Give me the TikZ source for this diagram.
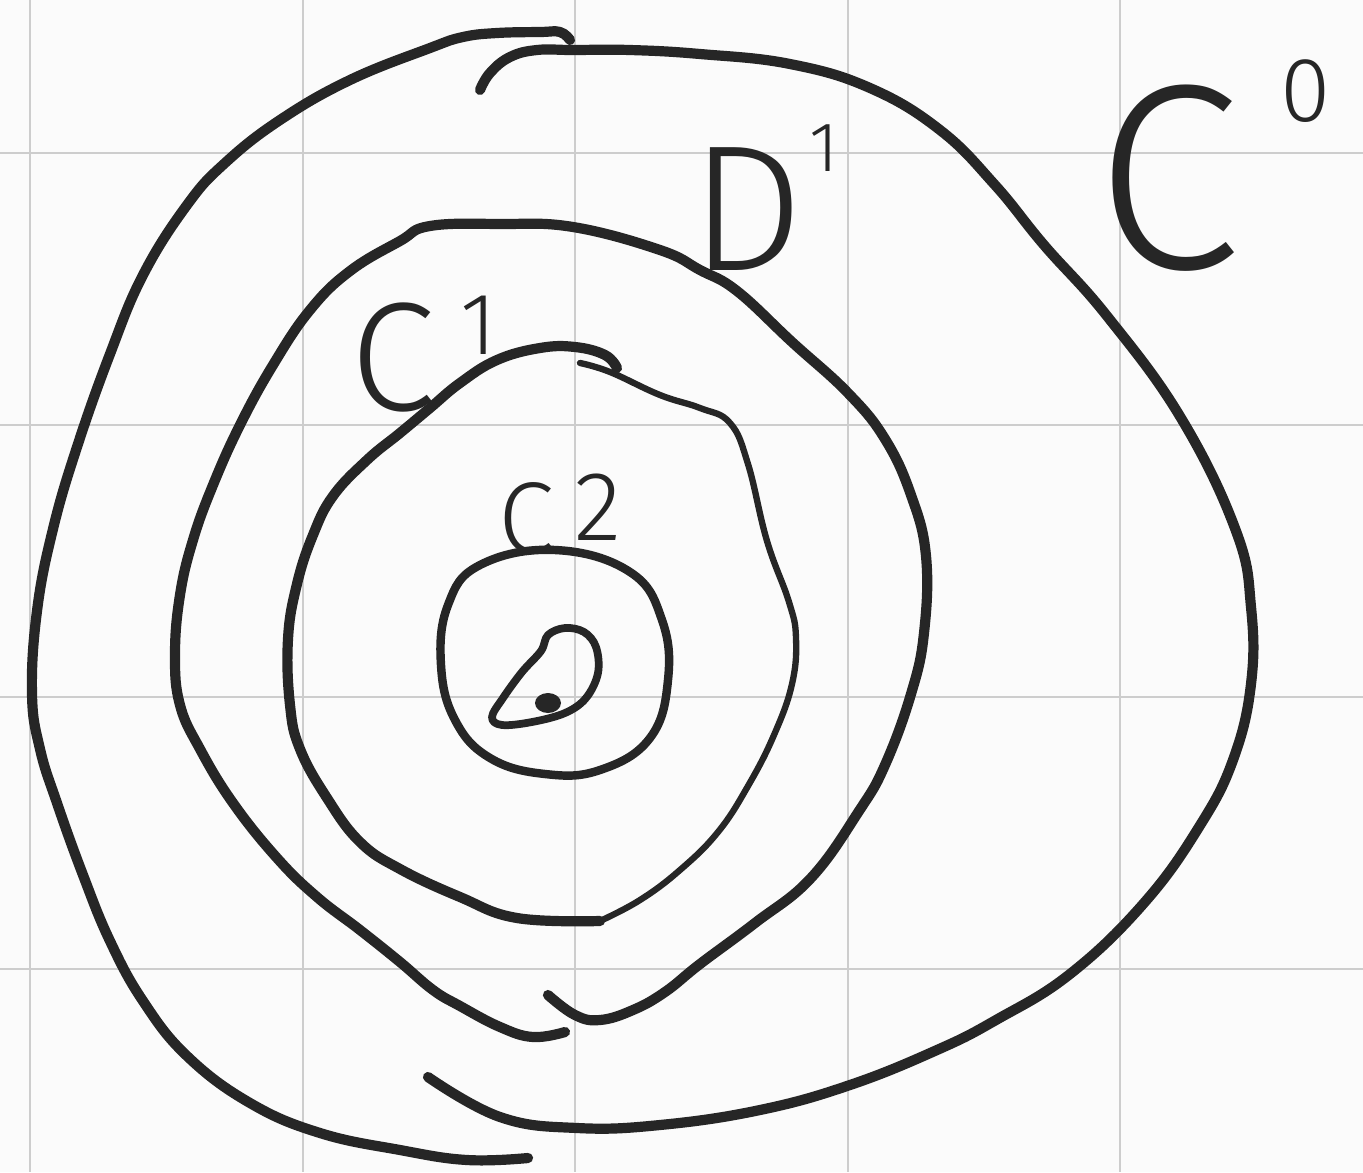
\documentclass[tikz,border=0pt]{standalone}
\usepackage{fontspec}
\newfontfamily\handfont{Fira Sans Light}
\definecolor{SketchInk}{HTML}{262626}
\definecolor{SketchGrid}{HTML}{CDCDCD}
\definecolor{SketchPaper}{HTML}{FBFBFB}
\tikzset{
  every node/.style={font=\handfont, text=SketchInk, inner sep=0pt},
  pen/.style={draw=SketchInk, line width=2.9pt, line cap=round, line join=round},
  finepen/.style={draw=SketchInk, line width=1.8pt, line cap=round, line join=round},
  gridline/.style={draw=SketchGrid, line width=0.8pt},
  tag/.style={anchor=base west},
}
\begin{document}
\begin{tikzpicture}[x=0.01cm,y=-0.01cm]
  % Paper and squared grid
  \fill[SketchPaper] (0,0) rectangle (1363,1172);
  \useasboundingbox (0,0) rectangle (1363,1172);
  \foreach \gx in {30,303,575,848,1120} \draw[gridline] (\gx,0) -- (\gx,1172);
  \foreach \gy in {153,425,697,969} \draw[gridline] (0,\gy) -- (1363,\gy);
  % Outer loop, left half
  \draw[pen] plot[smooth, tension=0.7] coordinates {(570,40) (560,32) (540,32) (497,33) (463,37) (430,48)
    (350,80) (280,120) (225,163) (187,205) (143,275) (110,354) (77,447) (53,529) (37,611) (32,694)
    (40,749) (57,803) (83,875) (110,941) (143,1001) (187,1056) (250,1103) (320,1133) (400,1150)
    (467,1160) (528,1158)};
  % Outer loop, right half
  \draw[pen] plot[smooth, tension=0.7] coordinates {(480,90) (490,73) (510,57) (537,50) (573,50) (630,50)
    (700,54) (790,64) (870,88) (940,130) (995,185) (1044,245) (1107,316) (1181,418) (1236,531)
    (1251,607) (1251,684) (1233,760) (1199,827) (1144,903) (1070,974) (996,1020) (937,1050)
    (850,1085) (760,1110) (660,1125) (577,1128) (500,1117) (428,1077)};
  % Second loop
  \draw[pen] plot[smooth, tension=0.7] coordinates {(565,1032) (533,1037) (500,1027) (460,1006) (433,990)
    (400,962) (360,930) (317,897) (277,858) (233,803) (200,749) (180,705) (175,655) (180,595)
    (193,540) (213,485) (240,425) (273,365) (310,310) (350,271) (400,241) (430,226) (500,224)
    (573,227) (660,250) (700,270) (737,291) (792,342) (848,393) (885,439) (911,495) (926,556)
    (924,633) (911,694) (885,765) (859,811) (811,878) (755,923) (700,964) (665,992) (633,1010)
    (600,1020) (575,1015) (548,995)};
  % Third loop, heavy left part
  \draw[pen] plot[smooth, tension=0.7] coordinates {(617,368) (605,355) (575,347) (540,348) (497,360)
    (460,383) (430,408) (400,433) (367,460) (333,496) (313,535) (297,584) (288,639) (290,705)
    (300,749) (327,798) (360,842) (400,869) (460,897) (517,918) (600,921)};
  % Third loop, light right part
  \draw[finepen] plot[smooth, tension=0.7] coordinates {(580,363) (610,372) (660,395) (700,408)
    (730,423) (748,464) (767,541) (789,602) (796,638) (792,684) (774,735) (748,786) (718,832)
    (680,870) (640,900) (600,921)};
  % Inner circle
  \draw[pen, line width=2.4pt] plot[smooth cycle, tension=0.7] coordinates {(555,550) (630,572) (662,620)
    (668,680) (650,738) (600,770) (545,774) (490,758) (455,720) (441,665) (448,605) (480,565)};
  % Centre mark
  \draw[pen, line width=2.2pt] plot[smooth cycle, tension=0.6] coordinates {(541,651) (522,672) (503,698)
    (492,717) (502,725) (532,722) (565,713) (586,698) (598,673) (596,647) (584,632) (565,628)
    (548,635)};
  \fill[SketchInk] (548,703) ellipse (13 and 10);
  % Labels
  \node[tag, font=\handfont\fontsize{75}{80}\selectfont] (c0) at (1095,268)
    {C\kern4mm\raisebox{14.6mm}{\fontsize{26}{26}\selectfont 0}};
  \node[tag, font=\handfont\fontsize{51}{56}\selectfont] (d1) at (690,270)
    {D\kern0.5mm\raisebox{9.8mm}{\fontsize{20}{20}\selectfont 1}};
  \node[tag, font=\handfont\fontsize{44}{48}\selectfont] (c1) at (350,410)
    {C\kern2.5mm\raisebox{5.5mm}{\fontsize{25}{25}\selectfont 1}};
  \node[tag, font=\handfont\fontsize{29}{32}\selectfont] (c2) at (498,553)
    {C\kern2mm\raisebox{1.3mm}{\fontsize{28}{28}\selectfont 2}};
\end{tikzpicture}
\end{document}
